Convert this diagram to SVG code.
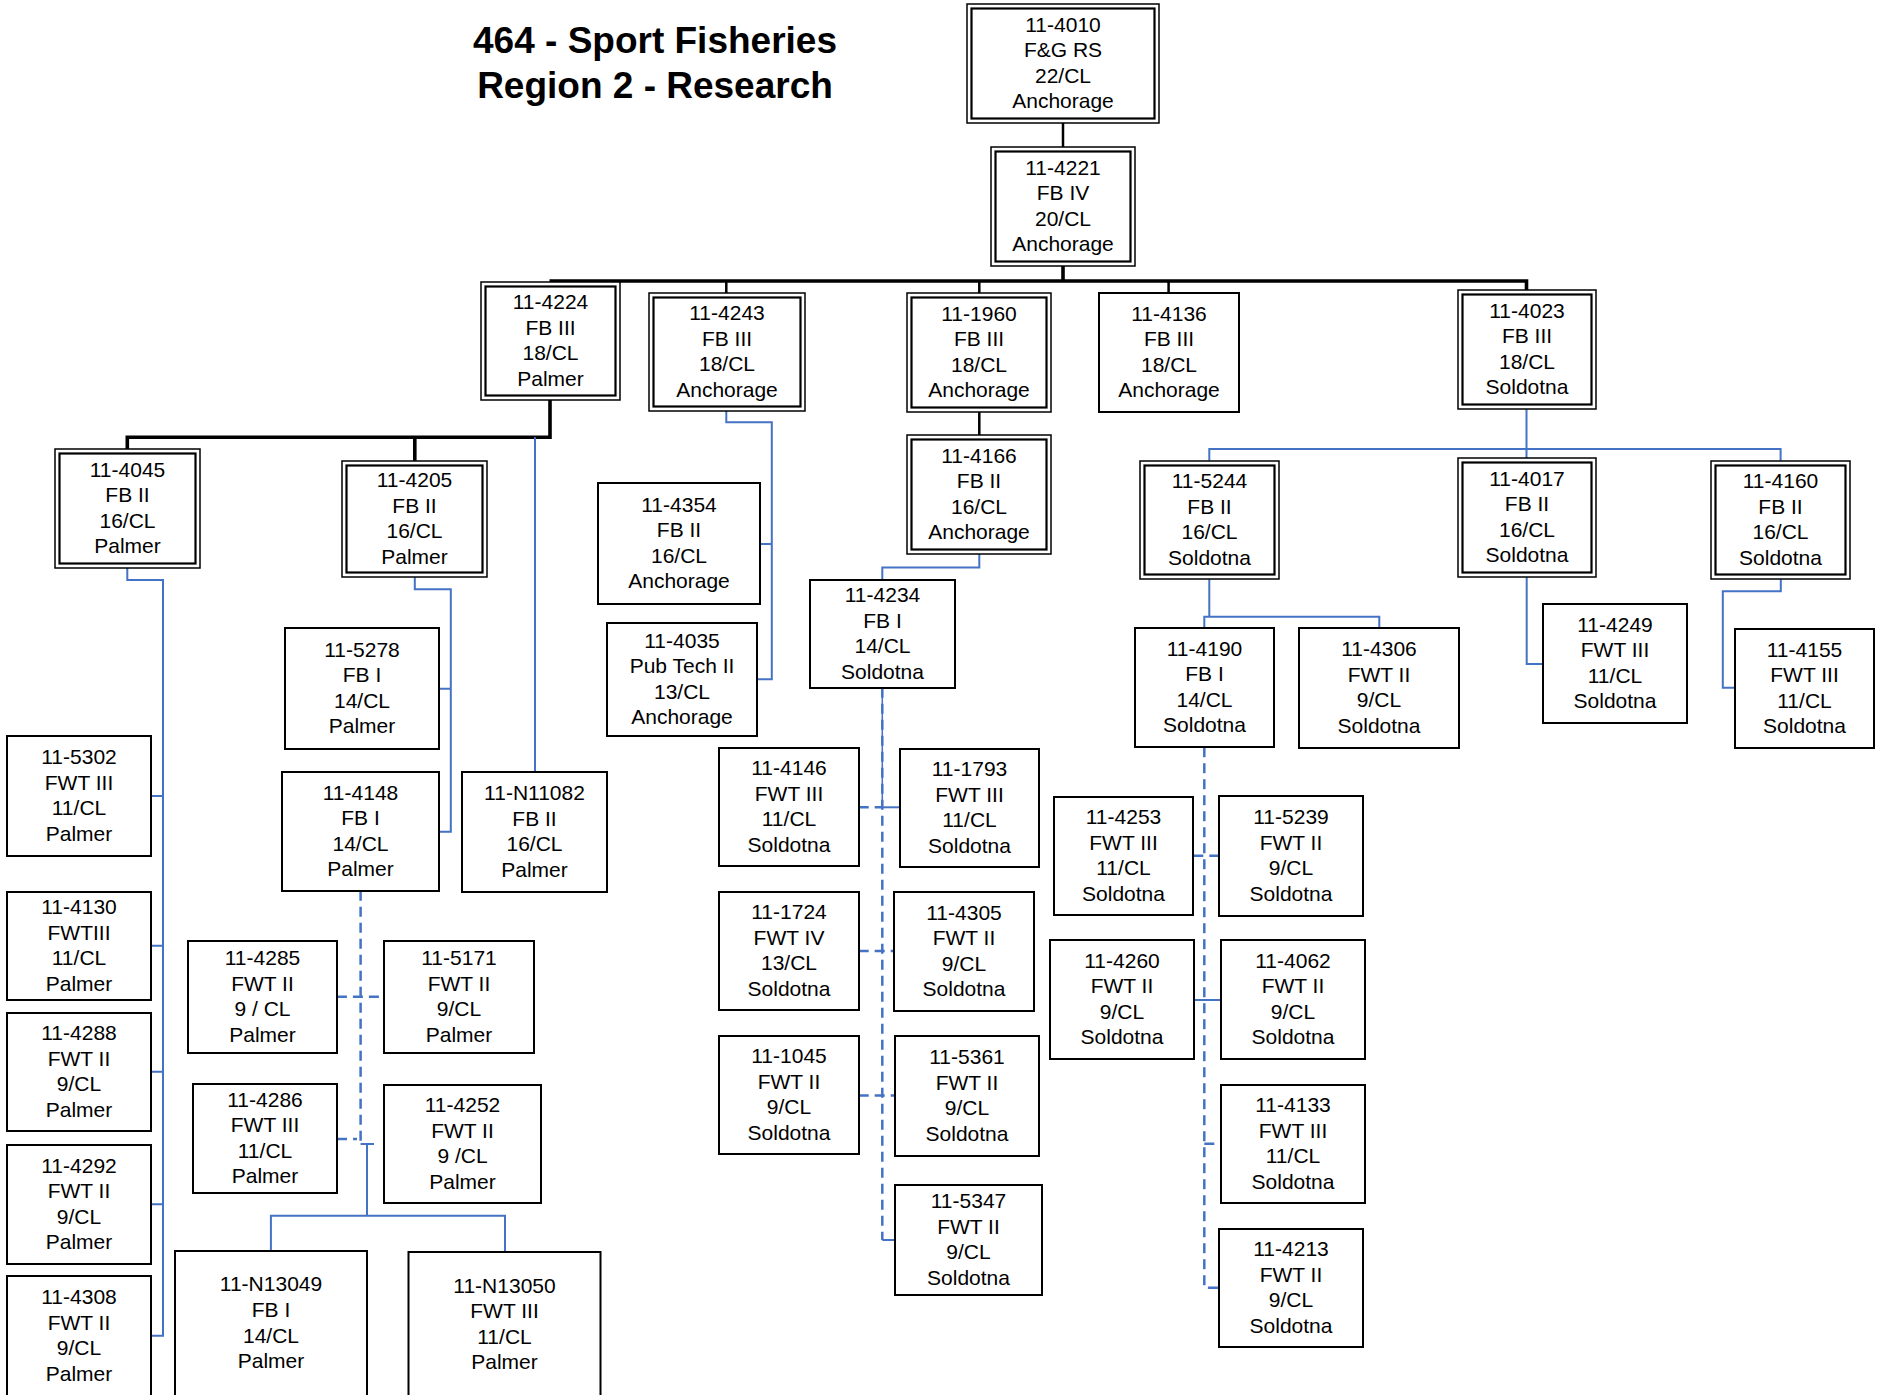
<svg xmlns="http://www.w3.org/2000/svg" width="1879" height="1395" viewBox="0 0 1879 1395">
<style>
rect{fill:#fff;stroke:#000}
rect.bg{fill:#fff;stroke:none}
.s{stroke-width:2}
.o{stroke-width:1.5}
.i{stroke-width:2.2;fill:none}
text{font-family:"Liberation Sans",Arial,sans-serif;font-size:21px;text-anchor:middle;fill:#000}
.node text{transform:translateY(-1px)}
.title{font-size:37px;font-weight:bold}
.k{fill:none;stroke:#000;stroke-width:2.5}
.kt{fill:none;stroke:#000;stroke-width:3.6}
.b{fill:none;stroke:#4472C4;stroke-width:2}
.bt{fill:none;stroke:#4472C4;stroke-width:1.5}
.d{fill:none;stroke:#4472C4;stroke-width:2.5;stroke-dasharray:10 6}
</style>
<rect class="bg" x="0" y="0" width="1879" height="1395"/>
<g id="title">
<text class="title" x="655" y="53">464 - Sport Fisheries</text>
<text class="title" x="655" y="98">Region 2 - Research</text>
</g>
<g id="connectors">
<path class="k" d="M1063,123 V147"/>
<path class="kt" d="M1063,265 V281"/>
<path class="kt" d="M549.5,281 H1526.5 V290"/>
<path class="k" d="M726.3,281 V293 M979.3,281 V293 M1168.6,281 V293 M979.3,411.7 V435"/>
<path class="kt" d="M550,400 V437.3 H127.3 V449.3 M414.8,437.3 V460.7"/>
<path class="b" d="M726.3,410.7 V422.3 H771.8 V679.3 H756.7 M760.3,544 H771.8"/>
<path class="b" d="M979.3,554 V567.5 H882.3 V580"/>
<path class="b" d="M127.3,567.7 V580 H163 V1335.7 H151 M151,796 H163 M151,945.7 H163 M151,1071.7 H163 M151,1204.3 H163"/>
<path class="b" d="M414.8,577.3 V589.3 H450.8 V831.7 H439.3 M439.3,688.7 H450.8"/>
<path class="b" d="M535,437.3 V771.7"/>
<path class="b" d="M1526.5,409.3 V458.3 M1209.3,460.7 V449 H1780.6 V460.7"/>
<path class="b" d="M1209.3,579.3 V616.7 M1204.3,628.3 V616.7 H1379.3 V627.7"/>
<path class="b" d="M1526.7,577.3 V664 H1542.6"/>
<path class="b" d="M1780.8,579.3 V591.3 H1722.8 V687.7 H1734.6"/>
<path class="b" d="M360.6,1144 H374 M367,1144 V1215.7 M270.9,1251 V1215.7 H505 V1252.3"/>
<path class="bt" d="M882.3,687.7 V807.3"/>
<path class="b" d="M882.3,807.3 H899.7"/>
<path class="b" d="M1194,1000 H1221"/>
<path class="b" d="M882.3,1240 H894.7"/>
<path class="d" d="M360.6,890.7 V1144 M336.9,996.7 H384.3 M337,1139 H357"/>
<path class="d" d="M882.3,687.7 V1240 M858.7,807.3 H882.3 M858.7,951 H894.3 M858.7,1095.5 H894.7"/>
<path class="d" d="M1204.3,747.3 V1287.7 H1218.7 M1193.3,855.7 H1218.7 M1204.3,1143.7 H1221"/>
</g>
<g id="n4010" class="node"><rect class="o" x="967" y="4" width="192" height="119"/><rect class="i" x="971.5" y="8.5" width="183" height="110"/><text x="1063" y="32.6"><tspan x="1063">11-4010</tspan><tspan x="1063" dy="25.6">F&amp;G RS</tspan><tspan x="1063" dy="25.6">22/CL</tspan><tspan x="1063" dy="25.6">Anchorage</tspan></text></g>
<g id="n4221" class="node"><rect class="o" x="991" y="147" width="144" height="119"/><rect class="i" x="995.5" y="151.5" width="135" height="110"/><text x="1063" y="175.6"><tspan x="1063">11-4221</tspan><tspan x="1063" dy="25.6">FB IV</tspan><tspan x="1063" dy="25.6">20/CL</tspan><tspan x="1063" dy="25.6">Anchorage</tspan></text></g>
<g id="n4224" class="node"><rect class="o" x="481" y="282" width="139" height="118"/><rect class="i" x="485.5" y="286.5" width="130" height="109"/><text x="550.5" y="310.1"><tspan x="550.5">11-4224</tspan><tspan x="550.5" dy="25.6">FB III</tspan><tspan x="550.5" dy="25.6">18/CL</tspan><tspan x="550.5" dy="25.6">Palmer</tspan></text></g>
<g id="n4243" class="node"><rect class="o" x="649" y="293" width="156" height="118"/><rect class="i" x="653.5" y="297.5" width="147" height="109"/><text x="727" y="321.1"><tspan x="727">11-4243</tspan><tspan x="727" dy="25.6">FB III</tspan><tspan x="727" dy="25.6">18/CL</tspan><tspan x="727" dy="25.6">Anchorage</tspan></text></g>
<g id="n1960" class="node"><rect class="o" x="907" y="293" width="144" height="119"/><rect class="i" x="911.5" y="297.5" width="135" height="110"/><text x="979" y="321.6"><tspan x="979">11-1960</tspan><tspan x="979" dy="25.6">FB III</tspan><tspan x="979" dy="25.6">18/CL</tspan><tspan x="979" dy="25.6">Anchorage</tspan></text></g>
<g id="n4136" class="node"><rect class="s" x="1099" y="293" width="140" height="119"/><text x="1169" y="321.6"><tspan x="1169">11-4136</tspan><tspan x="1169" dy="25.6">FB III</tspan><tspan x="1169" dy="25.6">18/CL</tspan><tspan x="1169" dy="25.6">Anchorage</tspan></text></g>
<g id="n4023" class="node"><rect class="o" x="1458" y="290" width="138" height="119"/><rect class="i" x="1462.5" y="294.5" width="129" height="110"/><text x="1527" y="318.6"><tspan x="1527">11-4023</tspan><tspan x="1527" dy="25.6">FB III</tspan><tspan x="1527" dy="25.6">18/CL</tspan><tspan x="1527" dy="25.6">Soldotna</tspan></text></g>
<g id="n4045" class="node"><rect class="o" x="55" y="449" width="145" height="119"/><rect class="i" x="59.5" y="453.5" width="136" height="110"/><text x="127.5" y="477.6"><tspan x="127.5">11-4045</tspan><tspan x="127.5" dy="25.6">FB II</tspan><tspan x="127.5" dy="25.6">16/CL</tspan><tspan x="127.5" dy="25.6">Palmer</tspan></text></g>
<g id="n4205" class="node"><rect class="o" x="342" y="461" width="145" height="116"/><rect class="i" x="346.5" y="465.5" width="136" height="107"/><text x="414.5" y="488.1"><tspan x="414.5">11-4205</tspan><tspan x="414.5" dy="25.6">FB II</tspan><tspan x="414.5" dy="25.6">16/CL</tspan><tspan x="414.5" dy="25.6">Palmer</tspan></text></g>
<g id="n4166" class="node"><rect class="o" x="907" y="435" width="144" height="119"/><rect class="i" x="911.5" y="439.5" width="135" height="110"/><text x="979" y="463.6"><tspan x="979">11-4166</tspan><tspan x="979" dy="25.6">FB II</tspan><tspan x="979" dy="25.6">16/CL</tspan><tspan x="979" dy="25.6">Anchorage</tspan></text></g>
<g id="n5244" class="node"><rect class="o" x="1140" y="461" width="139" height="118"/><rect class="i" x="1144.5" y="465.5" width="130" height="109"/><text x="1209.5" y="489.1"><tspan x="1209.5">11-5244</tspan><tspan x="1209.5" dy="25.6">FB II</tspan><tspan x="1209.5" dy="25.6">16/CL</tspan><tspan x="1209.5" dy="25.6">Soldotna</tspan></text></g>
<g id="n4017" class="node"><rect class="o" x="1458" y="458" width="138" height="119"/><rect class="i" x="1462.5" y="462.5" width="129" height="110"/><text x="1527" y="486.6"><tspan x="1527">11-4017</tspan><tspan x="1527" dy="25.6">FB II</tspan><tspan x="1527" dy="25.6">16/CL</tspan><tspan x="1527" dy="25.6">Soldotna</tspan></text></g>
<g id="n4160" class="node"><rect class="o" x="1711" y="461" width="139" height="118"/><rect class="i" x="1715.5" y="465.5" width="130" height="109"/><text x="1780.5" y="489.1"><tspan x="1780.5">11-4160</tspan><tspan x="1780.5" dy="25.6">FB II</tspan><tspan x="1780.5" dy="25.6">16/CL</tspan><tspan x="1780.5" dy="25.6">Soldotna</tspan></text></g>
<g id="n4354" class="node"><rect class="s" x="598" y="483" width="162" height="121"/><text x="679" y="512.6"><tspan x="679">11-4354</tspan><tspan x="679" dy="25.6">FB II</tspan><tspan x="679" dy="25.6">16/CL</tspan><tspan x="679" dy="25.6">Anchorage</tspan></text></g>
<g id="n4035" class="node"><rect class="s" x="607" y="623" width="150" height="113"/><text x="682" y="648.6"><tspan x="682">11-4035</tspan><tspan x="682" dy="25.6">Pub Tech II</tspan><tspan x="682" dy="25.6">13/CL</tspan><tspan x="682" dy="25.6">Anchorage</tspan></text></g>
<g id="n4234" class="node"><rect class="s" x="810" y="580" width="145" height="108"/><text x="882.5" y="603.1"><tspan x="882.5">11-4234</tspan><tspan x="882.5" dy="25.6">FB I</tspan><tspan x="882.5" dy="25.6">14/CL</tspan><tspan x="882.5" dy="25.6">Soldotna</tspan></text></g>
<g id="n5278" class="node"><rect class="s" x="285" y="628" width="154" height="121"/><text x="362" y="657.6"><tspan x="362">11-5278</tspan><tspan x="362" dy="25.6">FB I</tspan><tspan x="362" dy="25.6">14/CL</tspan><tspan x="362" dy="25.6">Palmer</tspan></text></g>
<g id="n4148" class="node"><rect class="s" x="282" y="772" width="157" height="119"/><text x="360.5" y="800.6"><tspan x="360.5">11-4148</tspan><tspan x="360.5" dy="25.6">FB I</tspan><tspan x="360.5" dy="25.6">14/CL</tspan><tspan x="360.5" dy="25.6">Palmer</tspan></text></g>
<g id="nN11082" class="node"><rect class="s" x="462" y="772" width="145" height="120"/><text x="534.5" y="801.1"><tspan x="534.5">11-N11082</tspan><tspan x="534.5" dy="25.6">FB II</tspan><tspan x="534.5" dy="25.6">16/CL</tspan><tspan x="534.5" dy="25.6">Palmer</tspan></text></g>
<g id="n5302" class="node"><rect class="s" x="7" y="736" width="144" height="120"/><text x="79" y="765.1"><tspan x="79">11-5302</tspan><tspan x="79" dy="25.6">FWT III</tspan><tspan x="79" dy="25.6">11/CL</tspan><tspan x="79" dy="25.6">Palmer</tspan></text></g>
<g id="n4130" class="node"><rect class="s" x="7" y="892" width="144" height="108"/><text x="79" y="915.1"><tspan x="79">11-4130</tspan><tspan x="79" dy="25.6">FWTIII</tspan><tspan x="79" dy="25.6">11/CL</tspan><tspan x="79" dy="25.6">Palmer</tspan></text></g>
<g id="n4288" class="node"><rect class="s" x="7" y="1013" width="144" height="118"/><text x="79" y="1041.1"><tspan x="79">11-4288</tspan><tspan x="79" dy="25.6">FWT II</tspan><tspan x="79" dy="25.6">9/CL</tspan><tspan x="79" dy="25.6">Palmer</tspan></text></g>
<g id="n4292" class="node"><rect class="s" x="7" y="1145" width="144" height="119"/><text x="79" y="1173.6"><tspan x="79">11-4292</tspan><tspan x="79" dy="25.6">FWT II</tspan><tspan x="79" dy="25.6">9/CL</tspan><tspan x="79" dy="25.6">Palmer</tspan></text></g>
<g id="n4308" class="node"><rect class="s" x="7" y="1276" width="144" height="122"/><text x="79" y="1305.1"><tspan x="79">11-4308</tspan><tspan x="79" dy="25.6">FWT II</tspan><tspan x="79" dy="25.6">9/CL</tspan><tspan x="79" dy="25.6">Palmer</tspan></text></g>
<g id="n4285" class="node"><rect class="s" x="188" y="941" width="149" height="112"/><text x="262.5" y="966.1"><tspan x="262.5">11-4285</tspan><tspan x="262.5" dy="25.6">FWT II</tspan><tspan x="262.5" dy="25.6">9 / CL</tspan><tspan x="262.5" dy="25.6">Palmer</tspan></text></g>
<g id="n5171" class="node"><rect class="s" x="384" y="941" width="150" height="112"/><text x="459" y="966.1"><tspan x="459">11-5171</tspan><tspan x="459" dy="25.6">FWT II</tspan><tspan x="459" dy="25.6">9/CL</tspan><tspan x="459" dy="25.6">Palmer</tspan></text></g>
<g id="n4286" class="node"><rect class="s" x="193" y="1084" width="144" height="109"/><text x="265" y="1107.6"><tspan x="265">11-4286</tspan><tspan x="265" dy="25.6">FWT III</tspan><tspan x="265" dy="25.6">11/CL</tspan><tspan x="265" dy="25.6">Palmer</tspan></text></g>
<g id="n4252" class="node"><rect class="s" x="384" y="1085" width="157" height="118"/><text x="462.5" y="1113.1"><tspan x="462.5">11-4252</tspan><tspan x="462.5" dy="25.6">FWT II</tspan><tspan x="462.5" dy="25.6">9 /CL</tspan><tspan x="462.5" dy="25.6">Palmer</tspan></text></g>
<g id="nN13049" class="node"><rect class="s" x="175" y="1251" width="192" height="150"/><text x="271" y="1292.4"><tspan x="271">11-N13049</tspan><tspan x="271" dy="25.6">FB I</tspan><tspan x="271" dy="25.6">14/CL</tspan><tspan x="271" dy="25.6">Palmer</tspan></text></g>
<g id="nN13050" class="node"><rect class="s" x="408.5" y="1252" width="192" height="150"/><text x="504.5" y="1293.5"><tspan x="504.5">11-N13050</tspan><tspan x="504.5" dy="25.6">FWT III</tspan><tspan x="504.5" dy="25.6">11/CL</tspan><tspan x="504.5" dy="25.6">Palmer</tspan></text></g>
<g id="n4146" class="node"><rect class="s" x="719" y="748" width="140" height="118"/><text x="789" y="776.1"><tspan x="789">11-4146</tspan><tspan x="789" dy="25.6">FWT III</tspan><tspan x="789" dy="25.6">11/CL</tspan><tspan x="789" dy="25.6">Soldotna</tspan></text></g>
<g id="n1793" class="node"><rect class="s" x="900" y="749" width="139" height="118"/><text x="969.5" y="777.1"><tspan x="969.5">11-1793</tspan><tspan x="969.5" dy="25.6">FWT III</tspan><tspan x="969.5" dy="25.6">11/CL</tspan><tspan x="969.5" dy="25.6">Soldotna</tspan></text></g>
<g id="n1724" class="node"><rect class="s" x="719" y="892" width="140" height="118"/><text x="789" y="920.1"><tspan x="789">11-1724</tspan><tspan x="789" dy="25.6">FWT IV</tspan><tspan x="789" dy="25.6">13/CL</tspan><tspan x="789" dy="25.6">Soldotna</tspan></text></g>
<g id="n4305" class="node"><rect class="s" x="894" y="892" width="140" height="119"/><text x="964" y="920.6"><tspan x="964">11-4305</tspan><tspan x="964" dy="25.6">FWT II</tspan><tspan x="964" dy="25.6">9/CL</tspan><tspan x="964" dy="25.6">Soldotna</tspan></text></g>
<g id="n1045" class="node"><rect class="s" x="719" y="1036" width="140" height="118"/><text x="789" y="1064.1"><tspan x="789">11-1045</tspan><tspan x="789" dy="25.6">FWT II</tspan><tspan x="789" dy="25.6">9/CL</tspan><tspan x="789" dy="25.6">Soldotna</tspan></text></g>
<g id="n5361" class="node"><rect class="s" x="895" y="1036" width="144" height="120"/><text x="967" y="1065.1"><tspan x="967">11-5361</tspan><tspan x="967" dy="25.6">FWT II</tspan><tspan x="967" dy="25.6">9/CL</tspan><tspan x="967" dy="25.6">Soldotna</tspan></text></g>
<g id="n5347" class="node"><rect class="s" x="895" y="1185" width="147" height="110"/><text x="968.5" y="1209.1"><tspan x="968.5">11-5347</tspan><tspan x="968.5" dy="25.6">FWT II</tspan><tspan x="968.5" dy="25.6">9/CL</tspan><tspan x="968.5" dy="25.6">Soldotna</tspan></text></g>
<g id="n4190" class="node"><rect class="s" x="1135" y="628" width="139" height="119"/><text x="1204.5" y="656.6"><tspan x="1204.5">11-4190</tspan><tspan x="1204.5" dy="25.6">FB I</tspan><tspan x="1204.5" dy="25.6">14/CL</tspan><tspan x="1204.5" dy="25.6">Soldotna</tspan></text></g>
<g id="n4306" class="node"><rect class="s" x="1299" y="628" width="160" height="120"/><text x="1379" y="657.1"><tspan x="1379">11-4306</tspan><tspan x="1379" dy="25.6">FWT II</tspan><tspan x="1379" dy="25.6">9/CL</tspan><tspan x="1379" dy="25.6">Soldotna</tspan></text></g>
<g id="n4249" class="node"><rect class="s" x="1543" y="604" width="144" height="119"/><text x="1615" y="632.6"><tspan x="1615">11-4249</tspan><tspan x="1615" dy="25.6">FWT III</tspan><tspan x="1615" dy="25.6">11/CL</tspan><tspan x="1615" dy="25.6">Soldotna</tspan></text></g>
<g id="n4155" class="node"><rect class="s" x="1735" y="629" width="139" height="119"/><text x="1804.5" y="657.6"><tspan x="1804.5">11-4155</tspan><tspan x="1804.5" dy="25.6">FWT III</tspan><tspan x="1804.5" dy="25.6">11/CL</tspan><tspan x="1804.5" dy="25.6">Soldotna</tspan></text></g>
<g id="n4253" class="node"><rect class="s" x="1054" y="797" width="139" height="118"/><text x="1123.5" y="825.1"><tspan x="1123.5">11-4253</tspan><tspan x="1123.5" dy="25.6">FWT III</tspan><tspan x="1123.5" dy="25.6">11/CL</tspan><tspan x="1123.5" dy="25.6">Soldotna</tspan></text></g>
<g id="n5239" class="node"><rect class="s" x="1219" y="796" width="144" height="120"/><text x="1291" y="825.1"><tspan x="1291">11-5239</tspan><tspan x="1291" dy="25.6">FWT II</tspan><tspan x="1291" dy="25.6">9/CL</tspan><tspan x="1291" dy="25.6">Soldotna</tspan></text></g>
<g id="n4260" class="node"><rect class="s" x="1050" y="940" width="144" height="119"/><text x="1122" y="968.6"><tspan x="1122">11-4260</tspan><tspan x="1122" dy="25.6">FWT II</tspan><tspan x="1122" dy="25.6">9/CL</tspan><tspan x="1122" dy="25.6">Soldotna</tspan></text></g>
<g id="n4062" class="node"><rect class="s" x="1221" y="940" width="144" height="119"/><text x="1293" y="968.6"><tspan x="1293">11-4062</tspan><tspan x="1293" dy="25.6">FWT II</tspan><tspan x="1293" dy="25.6">9/CL</tspan><tspan x="1293" dy="25.6">Soldotna</tspan></text></g>
<g id="n4133" class="node"><rect class="s" x="1221" y="1085" width="144" height="118"/><text x="1293" y="1113.1"><tspan x="1293">11-4133</tspan><tspan x="1293" dy="25.6">FWT III</tspan><tspan x="1293" dy="25.6">11/CL</tspan><tspan x="1293" dy="25.6">Soldotna</tspan></text></g>
<g id="n4213" class="node"><rect class="s" x="1219" y="1229" width="144" height="118"/><text x="1291" y="1257.1"><tspan x="1291">11-4213</tspan><tspan x="1291" dy="25.6">FWT II</tspan><tspan x="1291" dy="25.6">9/CL</tspan><tspan x="1291" dy="25.6">Soldotna</tspan></text></g>
</svg>
